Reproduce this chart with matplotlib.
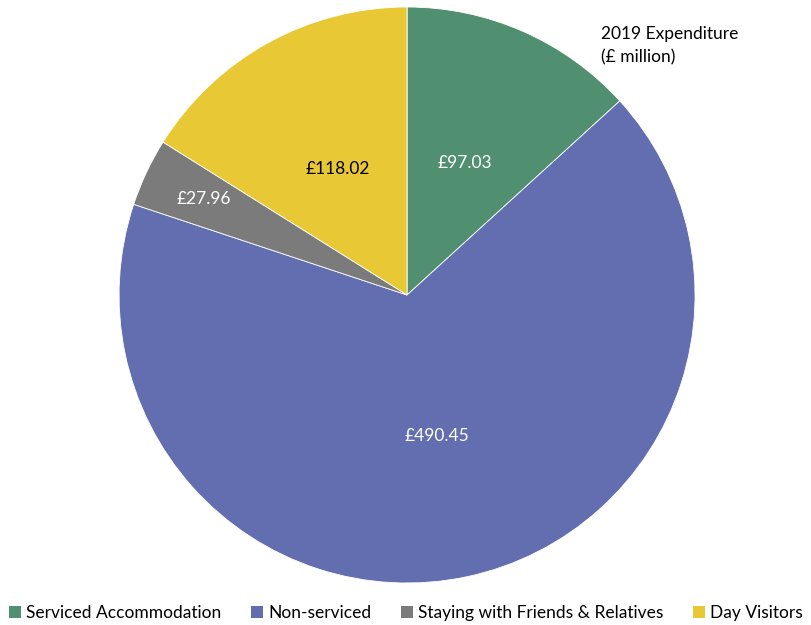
import matplotlib
matplotlib.use("Agg")
import matplotlib.pyplot as plt
from matplotlib.patches import Patch
import numpy as np

categories = ["Serviced Accommodation", "Non-serviced",
              "Staying with Friends & Relatives", "Day Visitors"]
values = [97.03, 490.45, 27.96, 118.02]
colors = ["#518F71", "#626EAF", "#7B7B7B", "#E8C834"]
label_colors = ["white", "white", "white", "black"]
label_dist = [0.5, 0.5, 0.78, 0.5]

plt.rcParams["font.family"] = ["Lato", "DejaVu Sans"]

fig = plt.figure(figsize=(8.12, 6.25), dpi=100)
ax = fig.add_axes([0.1466, 0.0672, 0.7094, 0.9216])

wedges, texts = ax.pie(values, colors=colors, startangle=90, counterclock=False,
                       labels=[f"£{v:.2f}" for v in values], labeldistance=0.5,
                       wedgeprops=dict(edgecolor="white", linewidth=0.6),
                       textprops=dict(fontsize=12.5, ha="center", va="center"))
for w, t, c, d in zip(wedges, texts, label_colors, label_dist):
    t.set_color(c)
    ang = np.deg2rad((w.theta1 + w.theta2) / 2)
    t.set_position((d * np.cos(ang), d * np.sin(ang)))
ax.set_xlim(-1, 1)
ax.set_ylim(-1, 1)
ax.set_aspect("equal")

fig.text(0.740, 0.958, "2019 Expenditure\n(£ million)", fontsize=12.5,
         ha="left", va="top", linespacing=1.55)

handles = [Patch(facecolor=c, edgecolor="none") for c in colors]
fig.legend(handles, categories, loc="center", bbox_to_anchor=(0.5, 1 - 613 / 625),
           ncol=4, frameon=False, fontsize=12.5, handlelength=0.7, handleheight=0.7,
           handletextpad=0.3, columnspacing=1.7, borderpad=0.1)

fig.savefig("out.png", dpi=100)
